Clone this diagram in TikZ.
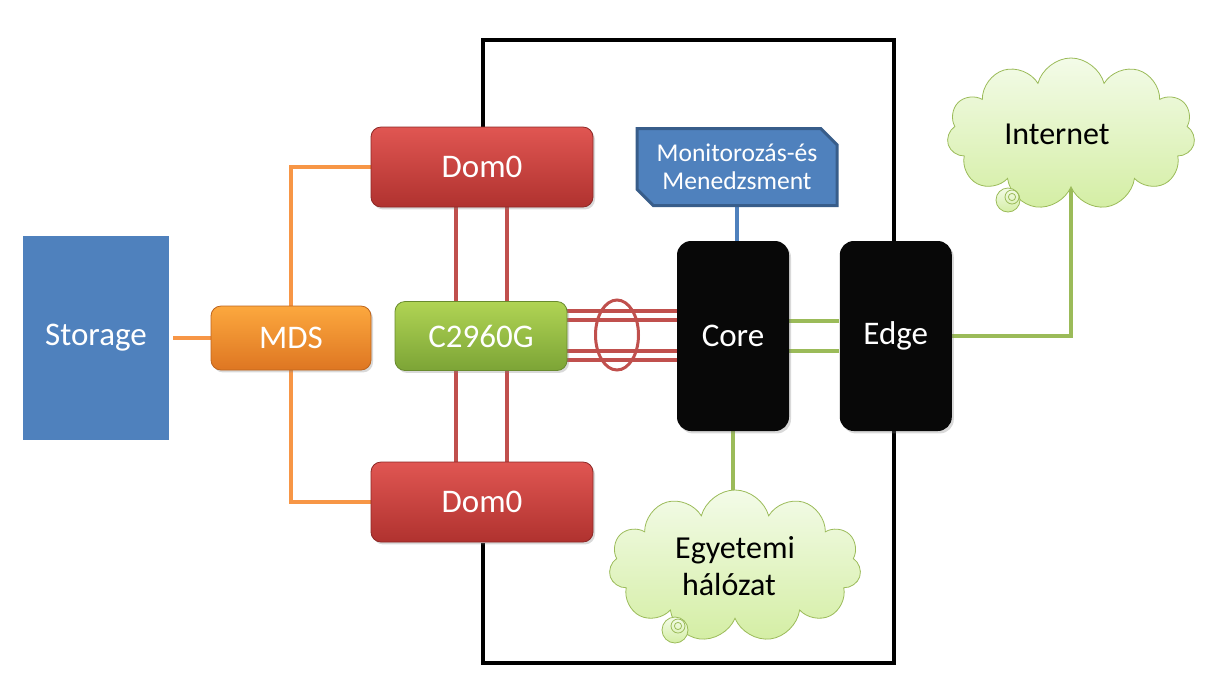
\documentclass[tikz,border=0pt]{standalone}
\usepackage{fontspec}
\setmainfont{Carlito}
\usetikzlibrary{shapes.geometric, shapes.misc, shapes.symbols, positioning, calc, backgrounds, shadows}
\definecolor{storeblue}{RGB}{79,129,189}
\definecolor{storeedge}{RGB}{56,93,138}
\definecolor{domtop}{RGB}{224,86,82}
\definecolor{dombot}{RGB}{176,50,47}
\definecolor{swtop}{RGB}{176,212,84}
\definecolor{swbot}{RGB}{124,164,54}
\definecolor{mdstop}{RGB}{252,168,62}
\definecolor{mdsbot}{RGB}{222,118,34}
\definecolor{redwire}{RGB}{192,80,77}
\definecolor{orangewire}{RGB}{247,150,70}
\definecolor{greenwire}{RGB}{155,187,89}
\definecolor{cloudtop}{RGB}{243,251,232}
\definecolor{cloudbot}{RGB}{212,238,164}

\begin{document}
\begin{tikzpicture}[
        x=0.5pt, y=-0.5pt,
        box/.style={rectangle, rounded corners=5pt, align=center, text=white, font=\fontsize{16.5}{20}\selectfont, drop shadow={opacity=0.3, shadow xshift=1pt, shadow yshift=-1.2pt}},
        dombox/.style={box, top color=domtop, bottom color=dombot, draw=dombot!80!black, minimum width=111pt, minimum height=40pt},
        netbox/.style={box, fill=black!97, rounded corners=7pt, minimum width=56pt, minimum height=95pt},
        cloudy/.style={cloud, cloud puffs=11, cloud ignores aspect, draw=greenwire, top color=cloudtop, bottom color=cloudbot, align=center, font=\fontsize{16}{18.5}\selectfont},
        redlink/.style={draw=redwire, line width=2pt},
        orangelink/.style={draw=orangewire, line width=2pt},
        greenlink/.style={draw=greenwire, line width=2pt}
    ]
        \useasboundingbox (0,0) rectangle (1207,698);

        % frame
        \draw[line width=2pt, line join=miter] (483,127) -- (483,40) -- (894,40) -- (894,663) -- (483,663) -- (483,543);

        \node[box, rectangle, rounded corners=0pt, fill=storeblue, draw=white, line width=2pt, minimum width=75pt, minimum height=104pt] (storage) at (96,338) {Storage};
        \node[box, top color=mdstop, bottom color=mdsbot, draw=mdsbot!85!black, minimum width=80pt, minimum height=32pt] (mds) at (291,338) {MDS};
        \node[box, top color=swtop, bottom color=swbot, draw=swbot!85!black, minimum width=86pt, minimum height=34.5pt] (switch) at (481,336) {C2960G};
        \node[dombox] (dom0a) at (482,167) {Dom0};
        \node[dombox] (dom0b) at (482,502) {Dom0};
        \node[netbox] (core) at (733,336) {Core};
        \node[netbox, right=25pt of core] (edge) {Edge};
        \node[chamfered rectangle, chamfered rectangle corners={north east, south west}, chamfered rectangle xsep=5pt, fill=storeblue, draw=storeedge, line width=1.5pt, minimum width=100pt, minimum height=38.5pt, inner xsep=2pt, text=white, align=center, font=\fontsize{12.8}{14}\selectfont] (monitor) at (737,167) {Monitorozás-és\\Menedzsment};
        \node[ellipse, draw=redwire, line width=1.5pt, minimum width=21.5pt, minimum height=35pt] (bundle) at (617,335) {};

        \node[cloudy, minimum width=124pt, minimum height=76pt] (internet) at (1071,134) {Internet\hspace*{14pt}};
        \node[cloudy, minimum width=126pt, minimum height=76pt] (uni) at (735,566) {Egyetemi\\hálózat\hspace*{6pt}};
        \draw[greenwire, top color=cloudtop, bottom color=cloudbot] (1008,200) circle (6pt);
        \draw[greenwire] (1012,197) circle (3.5pt) (1012,197) circle (1.8pt);
        \draw[greenwire, top color=cloudtop, bottom color=cloudbot] (675,630) circle (6.5pt);
        \draw[greenwire] (678,626) circle (3.5pt) (678,626) circle (1.8pt);

        \begin{scope}[on background layer]
            \draw[orangelink] (storage) -- (mds);
            \draw[orangelink] (mds.north) |- (dom0a.west);
            \draw[orangelink] (mds.south) |- (dom0b.west);
            \foreach \x in {456,507}
                \draw[redlink] (dom0a.south -| \x,0) -- (dom0b.north -| \x,0);
            \foreach \y in {311,320,351,360}
                \draw[redlink] (switch.east |- 0,\y) -- (core.west |- 0,\y);
            \foreach \y in {321,351}
                \draw[greenlink] (core.east |- 0,\y) -- (edge.west |- 0,\y);
            \draw[greenlink] (edge.east) -| (internet.south);
            \draw[greenlink] (core.south) -- (core.south |- uni.north);
            \draw[draw=storeblue, line width=2pt] (monitor.south) -- (monitor.south |- core.north);
        \end{scope}
    \end{tikzpicture}
\end{document}
